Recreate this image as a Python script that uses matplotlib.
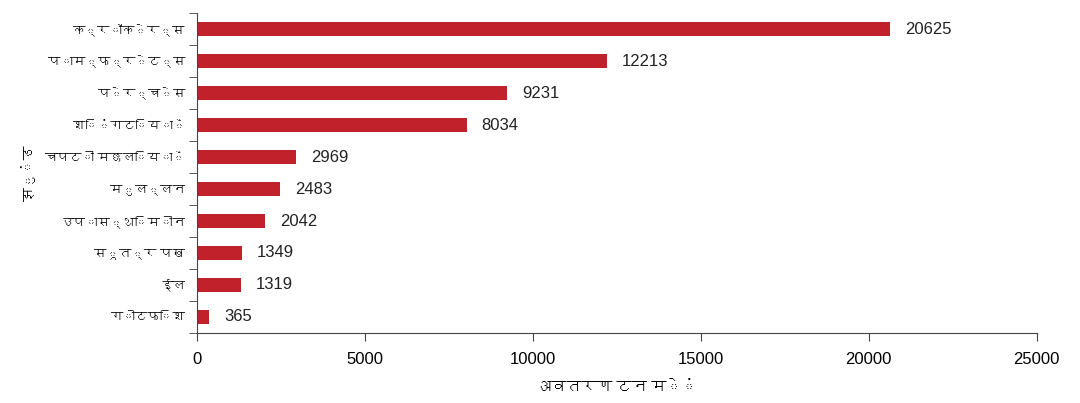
import matplotlib
matplotlib.use("Agg")
import matplotlib.pyplot as plt
from matplotlib import font_manager as fm
import numpy as np

groups = ["क्रॉकेर्स", "पाम्फ्रेट्स", "पेर्चेस", "शिंगटियाँ", "चपटी मछलियाँ",
          "मुल्लन", "उपास्थिमीन", "सूत्र पख", "ईल", "गोटफिश"]
landings = [20625, 12213, 9231, 8034, 2969, 2483, 2042, 1349, 1319, 365]
xticks = [0, 5000, 10000, 15000, 20000, 25000]

# look for any installed font that has Devanagari glyphs
deva = []
for f in fm.findSystemFonts():
    try:
        ft = matplotlib.ft2font.FT2Font(f)
        if 0x0915 in ft.get_charmap():
            name = fm.FontProperties(fname=f).get_name()
            if name not in deva:
                deva.append(name)
    except Exception:
        pass

installed = {f.name for f in fm.fontManager.ttflist}
latin = [n for n in ['Liberation Sans Narrow', 'Liberation Sans'] if n in installed][:1]
plt.rcParams['font.family'] = latin + deva + ['DejaVu Sans']

fig = plt.figure(figsize=(10.8, 4.03), dpi=100)
ax = fig.add_axes([0.182, 0.174, 0.778, 0.793])

y = np.arange(len(groups))[::-1]
ax.barh(y, landings, height=0.45, color='#c0212b')
for yi, v in zip(y, landings):
    ax.text(v + 450, yi, str(v), va='center', ha='left', fontsize=12, color='#222222')

ax.set_ylim(-0.5, len(groups) - 0.5)
ax.set_xlim(0, 25000)
ax.set_xticks(xticks)
ax.set_xticklabels([str(t) for t in xticks], fontsize=12)
ax.set_yticks(y)
ax.set_yticklabels(groups, fontsize=9)
ax.tick_params(axis='y', length=0, pad=8)
ax.set_yticks(np.arange(len(groups) + 1) - 0.5, minor=True)
ax.tick_params(axis='y', which='minor', length=6, color='#444444')
ax.tick_params(axis='x', length=6, color='#444444', pad=8)

for s in ['top', 'right']:
    ax.spines[s].set_visible(False)
for s in ['left', 'bottom']:
    ax.spines[s].set_color('#444444')

ax.set_xlabel("अवतरण टन में", fontsize=11, labelpad=10)
ax.set_ylabel("झुंड", fontsize=10, labelpad=6)

fig.savefig("out.png", dpi=100)
